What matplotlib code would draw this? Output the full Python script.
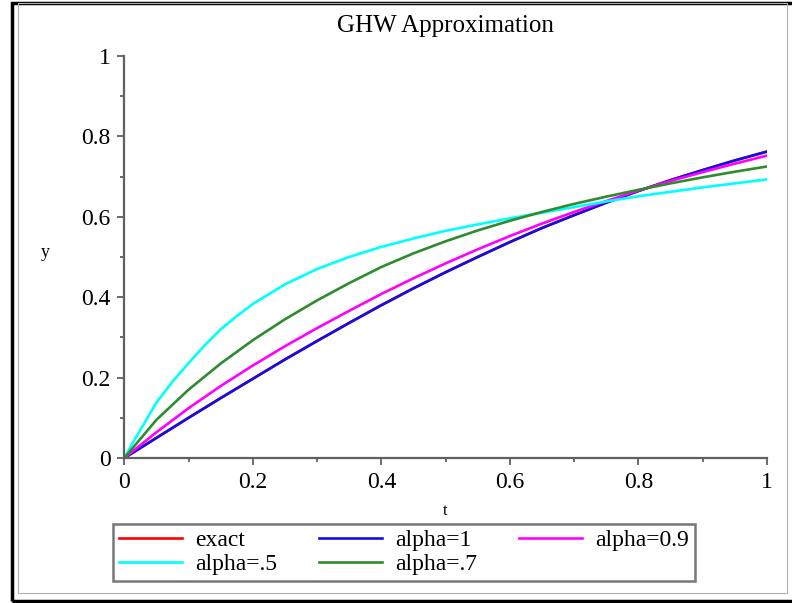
import matplotlib
matplotlib.use("Agg")
import matplotlib.pyplot as plt
from matplotlib.patches import Rectangle

# values
t = [0.0, 0.05, 0.10, 0.15, 0.20, 0.25, 0.30, 0.35, 0.40, 0.45, 0.50,
     0.55, 0.60, 0.65, 0.70, 0.75, 0.80, 0.85, 0.90, 0.95, 1.0]
y_exact = [0.0, 0.050, 0.100, 0.149, 0.197, 0.245, 0.291, 0.336, 0.380, 0.422, 0.462,
           0.500, 0.537, 0.572, 0.604, 0.635, 0.664, 0.691, 0.716, 0.740, 0.762]
y_a1 = [0.0, 0.050, 0.100, 0.149, 0.197, 0.245, 0.291, 0.336, 0.380, 0.422, 0.462,
        0.500, 0.537, 0.572, 0.604, 0.635, 0.664, 0.691, 0.716, 0.740, 0.762]
y_a09 = [0.0, 0.064, 0.124, 0.179, 0.230, 0.278, 0.323, 0.366, 0.408, 0.447, 0.484,
         0.519, 0.552, 0.583, 0.612, 0.639, 0.665, 0.689, 0.711, 0.732, 0.752]
y_a07 = [0.0, 0.095, 0.170, 0.235, 0.293, 0.345, 0.392, 0.435, 0.475, 0.509, 0.539,
         0.566, 0.590, 0.612, 0.632, 0.650, 0.667, 0.683, 0.698, 0.712, 0.725]
# alpha=.5 bends hard near t=0, so it was read at a few extra points there
t_a05 = [0.0, 0.0125, 0.025, 0.05, 0.075, 0.10, 0.125, 0.15, 0.175, 0.20, 0.25, 0.30,
         0.35, 0.40, 0.45, 0.50, 0.55, 0.60, 0.65, 0.70, 0.75, 0.80, 0.85, 0.90, 0.95, 1.0]
y_a05 = [0.0, 0.036, 0.070, 0.138, 0.190, 0.236, 0.280, 0.320, 0.353, 0.383, 0.432, 0.470,
         0.500, 0.525, 0.546, 0.565, 0.581, 0.596, 0.610, 0.624, 0.638, 0.651, 0.662,
         0.673, 0.683, 0.693]

plt.rcParams['font.family'] = ['Liberation Serif', 'DejaVu Serif']

fig = plt.figure(figsize=(7.92, 6.03), dpi=100)
ax = fig.add_axes([0.157, 0.2405, 0.8112, 0.6667])

l_ex, = ax.plot(t, y_exact, color='#ff0000', lw=1.9, label='exact')
l_1, = ax.plot(t, y_a1, color='#1010e6', lw=1.9, label='alpha=1')
l_09, = ax.plot(t, y_a09, color='#ff00ff', lw=1.9, label='alpha=0.9')
l_05, = ax.plot(t_a05, y_a05, color='#00ffff', lw=1.9, label='alpha=.5')
l_07, = ax.plot(t, y_a07, color='#2e8b2e', lw=1.9, label='alpha=.7')

ax.set_xlim(0, 1)
ax.set_ylim(0, 1)
ax.spines['top'].set_visible(False)
ax.spines['right'].set_visible(False)
for s in ['left', 'bottom']:
    ax.spines[s].set_color('#606060')
    ax.spines[s].set_linewidth(1.6)

ax.set_xticks([0, 0.2, 0.4, 0.6, 0.8, 1])
ax.set_xticklabels(['0', '0.2', '0.4', '0.6', '0.8', '1'])
ax.set_yticks([0, 0.2, 0.4, 0.6, 0.8, 1])
ax.set_yticklabels(['0', '0.2', '0.4', '0.6', '0.8', '1'])
ax.set_xticks([0.1, 0.3, 0.5, 0.7, 0.9], minor=True)
ax.set_yticks([0.1, 0.3, 0.5, 0.7, 0.9], minor=True)
ax.tick_params(which='major', length=5, width=1.3, color='#606060', labelsize=17, pad=5)
ax.tick_params(which='minor', length=3, width=1.3, color='#606060')

ax.set_title('GHW Approximation', fontsize=18, pad=17)
ax.set_xlabel('t', fontsize=12, labelpad=7)
ax.set_ylabel('y', fontsize=13, rotation=0, labelpad=0)
ax.yaxis.set_label_coords(-0.123, 0.49)

# row-wise order like the reference legend
handles = [l_ex, l_05, l_1, l_07, l_09]
leg = fig.legend(handles=handles, labels=[h.get_label() for h in handles],
                 loc='center', bbox_to_anchor=(0.51, 0.084), ncol=3, fontsize=17,
                 frameon=True, fancybox=False, handlelength=2.7, columnspacing=1.75,
                 handletextpad=0.55, borderpad=0.25, labelspacing=0.1,
                 borderaxespad=0)
leg.get_frame().set_edgecolor('#555555')
leg.get_frame().set_linewidth(1.8)

# picture frame borders
fig.patches.append(Rectangle((12 / 792, 1 - 601 / 603), 800 / 792, 598 / 603,
                             transform=fig.transFigure, fill=False,
                             edgecolor='black', lw=2.5))
fig.patches.append(Rectangle((18 / 792, 1 - 593 / 603), 769 / 792, 590 / 603,
                             transform=fig.transFigure, fill=False,
                             edgecolor='#b0b0b0', lw=0.8))

fig.savefig('out.png', dpi=100)
